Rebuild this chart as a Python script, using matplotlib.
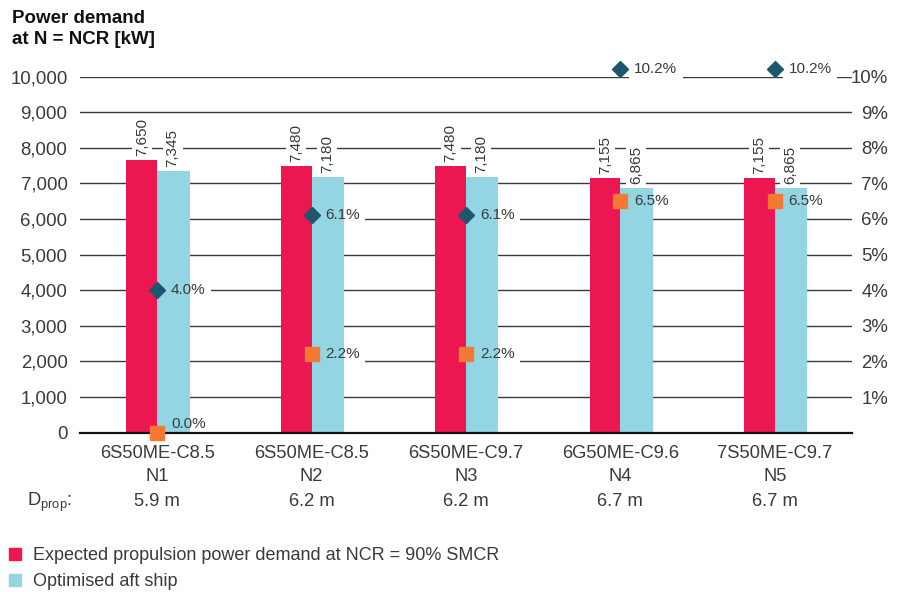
import matplotlib
matplotlib.use("Agg")
import matplotlib.pyplot as plt
from matplotlib.lines import Line2D
from matplotlib.transforms import blended_transform_factory
import numpy as np

plt.rcParams['font.family'] = ['Liberation Sans', 'DejaVu Sans']
plt.rcParams['mathtext.fontset'] = 'custom'
plt.rcParams['mathtext.rm'] = 'Liberation Sans'
plt.rcParams['mathtext.it'] = 'Liberation Sans'

# ---- data ----
categories = ["6S50ME-C8.5\nN1", "6S50ME-C8.5\nN2", "6S50ME-C9.7\nN3",
              "6G50ME-C9.6\nN4", "7S50ME-C9.7\nN5"]
dprop = ["5.9 m", "6.2 m", "6.2 m", "6.7 m", "6.7 m"]
expected = [7650, 7480, 7480, 7155, 7155]
optimised = [7345, 7180, 7180, 6865, 6865]
diamond_pct = [4.0, 6.1, 6.1, 10.2, 10.2]
square_pct = [0.0, 2.2, 2.2, 6.5, 6.5]
left_ticks = [0, 1000, 2000, 3000, 4000, 5000, 6000, 7000, 8000, 9000, 10000]
right_ticks = [1, 2, 3, 4, 5, 6, 7, 8, 9, 10]
legend_labels = ["Expected propulsion power demand at NCR = 90% SMCR",
                 "Optimised aft ship"]

RED = "#EC1651"
CYAN = "#93D5E3"
DIAM = "#1F566F"
SQR = "#F47A34"
TXT = "#3a3a3a"

fig = plt.figure(figsize=(9.05, 5.92), dpi=100)
ax = fig.add_axes([80/905, 1-432.7/592, (852-80)/905, (432.7-76.5)/592])
ax2 = ax.twinx()
ax.set_zorder(1)
ax2.set_zorder(2)
ax.patch.set_visible(False)

x = np.arange(len(categories))
w = 0.2
ax.bar(x - w/2, expected, width=w, color=RED, zorder=3)
ax.bar(x + w/2 + 0.005, optimised, width=w + 0.01, color=CYAN, zorder=3)

ax.set_xlim(-0.5, len(categories) - 0.5)
ax.set_ylim(0, 10000)
ax.set_yticks(left_ticks)
ax.set_yticklabels([f"{v:,}" for v in left_ticks])
ax.yaxis.grid(True, color="#3a3a3a", lw=1.0, zorder=0)
ax.set_axisbelow(True)
ax.tick_params(axis='y', length=0, pad=9, labelsize=13.4, labelcolor=TXT)
ax.set_xticks(x)
ax.set_xticklabels(categories, linespacing=1.45)
ax.tick_params(axis='x', length=0, pad=9, labelsize=13.2, labelcolor=TXT)
for s in ['top', 'right', 'left']:
    ax.spines[s].set_visible(False)
ax.spines['bottom'].set_color('#111111')
ax.spines['bottom'].set_linewidth(1.6)
ax.spines['bottom'].set_zorder(4)

def boxed(axis, text, xy, xytext, **kw):
    # white background (below bars) that only breaks gridlines
    axis.annotate(text, xy, xytext=xytext, textcoords='offset points', color='none',
                  bbox=dict(boxstyle=kw.pop('box', 'square,pad=0.35'), fc='white', ec='none'),
                  zorder=1, annotation_clip=False, **kw)
    axis.annotate(text, xy, xytext=xytext, textcoords='offset points', color=TXT,
                  zorder=6, annotation_clip=False, **kw)

# value labels on bars
for xi, v in zip(x - w/2, expected):
    boxed(ax, f"{v:,}", (xi, v), (0, 3), rotation=90, ha='center', va='bottom',
          fontsize=11, box='square,pad=0.2')
for xi, v in zip(x + w/2, optimised):
    boxed(ax, f"{v:,}", (xi, v), (0, 3), rotation=90, ha='center', va='bottom',
          fontsize=11, box='square,pad=0.2')

# right axis
ax2.set_ylim(0, 10)
ax2.set_yticks(right_ticks)
ax2.set_yticklabels([f"{t}%" for t in right_ticks])
for lbl in ax2.get_yticklabels():
    lbl.set_horizontalalignment('right')
ax2.tick_params(axis='y', length=0, pad=26, labelsize=13.4, labelcolor=TXT)
for s in ax2.spines.values():
    s.set_visible(False)

ax2.plot(x, diamond_pct, ls='none', marker='D', markersize=8.5, color=DIAM,
         zorder=5, clip_on=False)
ax2.plot(x, square_pct, ls='none', marker='s', markersize=9.5, color=SQR,
         zorder=5, clip_on=False)
for xi, v in zip(x, diamond_pct):
    boxed(ax, f"{v:.1f}%", (xi, v * 1000), (10, 0), ha='left', va='center', fontsize=11)
for xi, v in zip(x, square_pct):
    dy = 6.5 if v == 0 else 0
    boxed(ax, f"{v:.1f}%", (xi, v * 1000), (10, dy), ha='left', va='center', fontsize=11)

# D_prop row
tr = blended_transform_factory(ax.transData, fig.transFigure)
for xi, d in zip(x, dprop):
    ax.text(xi, 1 - 502/592, d, transform=tr, ha='center', va='center',
            fontsize=13.2, color=TXT)
fig.text(27/905, 1 - 502/592, r"D$_{\mathrm{prop}}$:", ha='left', va='center',
         fontsize=13.2, color=TXT)

# title
fig.text(12/905, 1 - 10/592, "Power demand\nat N = NCR [kW]", ha='left', va='top',
         fontsize=13.5, fontweight='bold', color='#111111', linespacing=1.3)

# legend
handles = [Line2D([], [], ls='none', marker='s', markersize=8.5, color=RED),
           Line2D([], [], ls='none', marker='s', markersize=8.5, color=CYAN)]
fig.legend(handles, legend_labels, loc='upper left', bbox_to_anchor=(7/905, 1 - 547/592),
           frameon=False, fontsize=13, handlelength=0.9, handletextpad=0.55,
           labelspacing=0.5, borderpad=0, borderaxespad=0, labelcolor=TXT)

fig.savefig("out.png", dpi=100)
